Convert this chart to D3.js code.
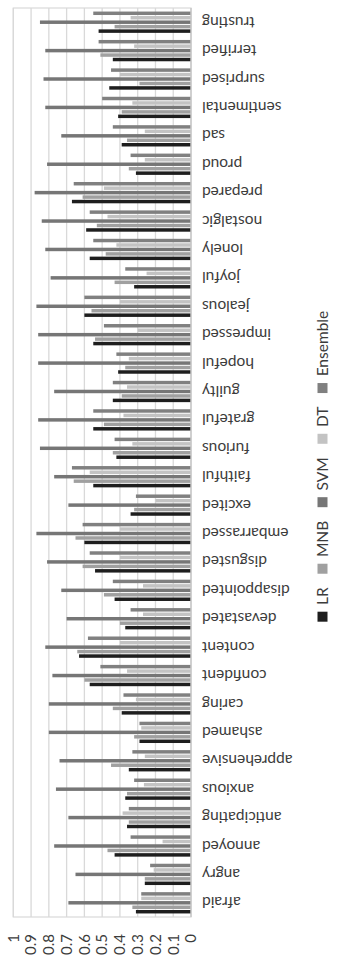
<!DOCTYPE html>
<html>
<head>
<meta charset="utf-8">
<script src="https://cdn.jsdelivr.net/npm/d3@7"></script>
<style>
  html, body { margin: 0; padding: 0; background: #fff; }
  svg { display: block; }
  text { font-family: Lato, "Open Sans", sans-serif; fill: #3c3c3c; }
</style>
</head>
<body>
<svg id="chart" width="349" height="959"></svg>
<script>
// Emotion categories, left to right along the category axis
const categories = ["afraid", "angry", "annoyed", "anticipating", "anxious", "apprehensive",
  "ashamed", "caring", "confident", "content", "devastated", "disappointed", "disgusted",
  "embarrassed", "excited", "faithful", "furious", "grateful", "guilty", "hopeful",
  "impressed", "jealous", "joyful", "lonely", "nostalgic", "prepared", "proud", "sad",
  "sentimental", "surprised", "terrified", "trusting"];

const seriesNames = ["LR", "MNB", "SVM", "DT", "Ensemble"];

// Scores per classifier, one value per category
const lrValues = [0.31, 0.26, 0.43, 0.36, 0.37, 0.35, 0.29, 0.39, 0.57, 0.63, 0.37, 0.43,
  0.54, 0.60, 0.34, 0.55, 0.42, 0.55, 0.44, 0.41, 0.55, 0.60, 0.32, 0.57, 0.59, 0.67,
  0.31, 0.39, 0.41, 0.46, 0.44, 0.52];
const mnbValues = [0.33, 0.26, 0.47, 0.35, 0.36, 0.45, 0.32, 0.44, 0.60, 0.64, 0.40, 0.49,
  0.61, 0.65, 0.32, 0.66, 0.44, 0.49, 0.39, 0.37, 0.54, 0.56, 0.43, 0.48, 0.53, 0.61,
  0.35, 0.36, 0.39, 0.29, 0.51, 0.43];
const svmValues = [0.69, 0.65, 0.77, 0.69, 0.76, 0.74, 0.80, 0.80, 0.78, 0.82, 0.70, 0.73,
  0.81, 0.87, 0.69, 0.77, 0.85, 0.86, 0.77, 0.86, 0.86, 0.87, 0.79, 0.82, 0.84, 0.88,
  0.81, 0.73, 0.82, 0.83, 0.82, 0.85];
const dtValues = [0.28, 0.21, 0.16, 0.385, 0.265, 0.26, 0.28, 0.31, 0.36, 0.40, 0.27, 0.27,
  0.40, 0.40, 0.20, 0.57, 0.33, 0.38, 0.36, 0.35, 0.30, 0.40, 0.25, 0.42, 0.47, 0.49,
  0.26, 0.26, 0.33, 0.40, 0.32, 0.34];
const ensembleValues = [0.28, 0.23, 0.34, 0.35, 0.32, 0.33, 0.29, 0.38, 0.51, 0.58, 0.34, 0.44,
  0.57, 0.61, 0.31, 0.67, 0.43, 0.55, 0.44, 0.42, 0.49, 0.60, 0.37, 0.55, 0.57, 0.66,
  0.34, 0.44, 0.50, 0.45, 0.52, 0.55];

const tickValues = [0, 0.1, 0.2, 0.3, 0.4, 0.5, 0.6, 0.7, 0.8, 0.9, 1];
const tickLabels = ["0", "0.1", "0.2", "0.3", "0.4", "0.5", "0.6", "0.7", "0.8", "0.9", "1"];

const valuesBySeries = {
  LR: lrValues, MNB: mnbValues, SVM: svmValues, DT: dtValues, Ensemble: ensembleValues
};

const color = d3.scaleOrdinal()
  .domain(seriesNames)
  .range(["#1e1e1e", "#a0a0a0", "#767676", "#c3c3c3", "#808080"]);

// The chart is laid out as a landscape column chart, then turned a quarter turn
// counter-clockwise so it stands upright in the portrait page.
const W = 959, H = 349;
const svg = d3.select("#chart");
const g = svg.append("g").attr("transform", `translate(0,${W}) rotate(-90)`);

const plotLeft = 42, plotRight = 951;
const x0 = d3.scaleBand().domain(categories)
  .range([plotLeft, plotRight]).paddingInner(0.25).paddingOuter(0.125);
const x1 = d3.scaleBand().domain(seriesNames)
  .range([0, x0.bandwidth()]).paddingInner(0.22);
const y = d3.scaleLinear().domain([0, 1]).range([191, 13.3]);

// plot frame
g.append("rect")
  .attr("x", plotLeft).attr("y", y(1))
  .attr("width", plotRight - plotLeft).attr("height", y(0) - y(1))
  .attr("fill", "none").attr("stroke", "#d9d9d9").attr("stroke-width", 1.2);

// gridlines
g.append("g").selectAll("line")
  .data(tickValues.filter(v => v > 0))
  .join("line")
  .attr("x1", plotLeft).attr("x2", plotRight)
  .attr("y1", d => y(d)).attr("y2", d => y(d))
  .attr("stroke", "#d9d9d9").attr("stroke-width", 1.3);

// value axis labels
const yAxis = d3.axisLeft(y)
  .tickValues(tickValues)
  .tickFormat((d, i) => tickLabels[i])
  .tickSize(0).tickPadding(0);
const yAxisG = g.append("g").attr("transform", "translate(25,0)").call(yAxis);
yAxisG.select(".domain").remove();
yAxisG.selectAll("text")
  .attr("x", 0)
  .style("font-family", "Lato, 'Open Sans', sans-serif")
  .style("font-size", "15px")
  .attr("fill", "#3c3c3c");

// bars
const groups = g.append("g").selectAll("g")
  .data(categories)
  .join("g")
  .attr("transform", d => `translate(${x0(d)},0)`);

groups.selectAll("rect")
  .data((cat, ci) => seriesNames.map(s => ({ series: s, value: valuesBySeries[s][ci] })))
  .join("rect")
  .attr("x", d => x1(d.series))
  .attr("y", d => y(d.value))
  .attr("width", x1.bandwidth())
  .attr("height", d => y(0) - y(d.value))
  .attr("fill", d => color(d.series));

// category axis line
g.append("line")
  .attr("x1", plotLeft).attr("x2", plotRight)
  .attr("y1", y(0)).attr("y2", y(0))
  .attr("stroke", "#c8c8c8").attr("stroke-width", 1.5);

// category labels, set vertically beneath the axis
const xAxis = d3.axisBottom(x0).tickSize(0).tickPadding(0);
const xAxisG = g.append("g").attr("transform", `translate(0,${y(0) + 11})`).call(xAxis);
xAxisG.select(".domain").remove();
xAxisG.selectAll("text")
  .attr("y", 0).attr("x", 0).attr("dy", "0.35em")
  .attr("transform", "rotate(-90)")
  .attr("text-anchor", "end")
  .style("font-family", "Lato, 'Open Sans', sans-serif")
  .style("font-size", "15.5px")
  .attr("fill", "#3c3c3c");

// legend
const legend = g.append("g").attr("transform", "translate(337.3,322.5)");
let cursor = 0;
seriesNames.forEach(name => {
  const item = legend.append("g").attr("transform", `translate(${cursor},0)`);
  item.append("rect")
    .attr("x", 0).attr("y", -5).attr("width", 10).attr("height", 10)
    .attr("fill", color(name));
  const t = item.append("text")
    .attr("x", 16.7).attr("y", 0).attr("dy", "0.35em")
    .style("font-size", "15.5px")
    .text(name);
  cursor += 16.7 + t.node().getComputedTextLength() + 13.6;
});
</script>
</body>
</html>
